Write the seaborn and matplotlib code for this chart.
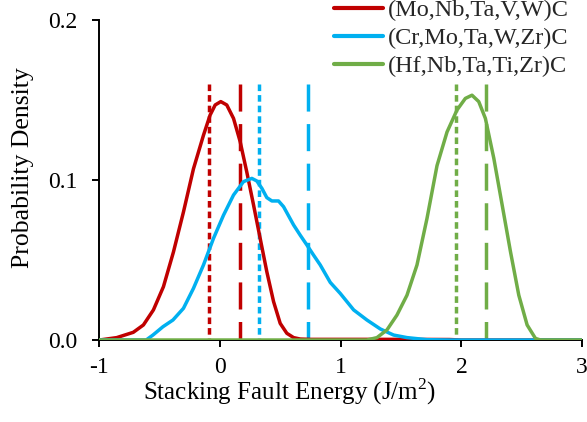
import numpy as np
import pandas as pd
import matplotlib
matplotlib.use("Agg")
import matplotlib.pyplot as plt
import seaborn as sns

# ---- data ----
series_names = ["(Mo,Nb,Ta,V,W)C", "(Cr,Mo,Ta,W,Zr)C", "(Hf,Nb,Ta,Ti,Zr)C"]

red_x = [-1.0, -0.857, -0.72, -0.636, -0.553, -0.47, -0.387, -0.304, -0.221, -0.138, -0.083,
         -0.041, 0.0055, 0.055, 0.111, 0.166, 0.221, 0.277, 0.332, 0.387, 0.443, 0.498, 0.553,
         0.609, 0.664, 0.75, 1.0, 1.5, 1.9, 2.0, 3.0]
red_y = [0.0, 0.0015, 0.0048, 0.0094, 0.0188, 0.0333, 0.055, 0.080, 0.107, 0.128, 0.1406,
         0.1469, 0.149, 0.1469, 0.1385, 0.124, 0.105, 0.0844, 0.0635, 0.0427, 0.024, 0.0104,
         0.0042, 0.0015, 0.0006, 0.0004, 0.0004, 0.0004, 0.0003, 0.0, 0.0]

blue_x = [-1.0, -0.613, -0.557, -0.474, -0.391, -0.304, -0.221, -0.138, -0.055, 0.028, 0.111,
          0.194, 0.263, 0.304, 0.346, 0.387, 0.429, 0.484, 0.526, 0.609, 0.664, 0.719, 0.775,
          0.830, 0.913, 0.996, 1.107, 1.217, 1.328, 1.438, 1.549, 1.715, 1.909, 3.0]
blue_y = [0.0, 0.0, 0.0031, 0.0083, 0.0125, 0.0198, 0.0323, 0.0469, 0.0635, 0.078, 0.0906,
          0.099, 0.101, 0.0994, 0.0948, 0.089, 0.0869, 0.0869, 0.0833, 0.0719, 0.0655, 0.0594,
          0.053, 0.0469, 0.0360, 0.0291, 0.0188, 0.0125, 0.0069, 0.0031, 0.0015, 0.0002, 0.0, 0.0]

green_x = [-1.0, 1.217, 1.300, 1.383, 1.466, 1.549, 1.632, 1.715, 1.798, 1.881, 1.964, 2.033,
           2.088, 2.144, 2.199, 2.269, 2.338, 2.407, 2.476, 2.545, 2.614, 2.656, 3.0]
green_y = [0.0, 0.0, 0.0015, 0.0063, 0.0156, 0.028, 0.0469, 0.076, 0.109, 0.130, 0.1438, 0.151,
           0.153, 0.149, 0.1385, 0.1135, 0.0844, 0.0552, 0.028, 0.0094, 0.001, 0.0, 0.0]

# vertical reference lines: short-dash and long-dash per series
short_dash_x = [-0.0885, 0.326, 1.959]
long_dash_x = [0.163, 0.725, 2.202]
vline_top = 0.16

colors = ["#C00000", "#00B0F0", "#70AD47"]

x_ticks = [-1, 0, 1, 2, 3]
y_ticks = [0.0, 0.1, 0.2]

# ---- build frame ----
frames = []
for name, xs, ys in zip(series_names, [red_x, blue_x, green_x], [red_y, blue_y, green_y]):
    frames.append(pd.DataFrame({"x": xs, "y": ys, "series": name}))
df = pd.concat(frames, ignore_index=True)

sns.set_theme(style="white")
plt.rcParams["font.family"] = ["Liberation Serif", "DejaVu Serif"]
plt.rcParams["mathtext.fontset"] = "custom"
plt.rcParams["mathtext.rm"] = "Liberation Serif"

fig = plt.figure(figsize=(5.87, 4.22), dpi=100)
ax = fig.add_axes([0.1695, 0.1943, 0.8220, 0.7583])

lw = 2.5
sns.lineplot(data=df, x="x", y="y", hue="series", hue_order=series_names,
             palette=colors, linewidth=lw, sort=False, estimator=None, ax=ax, zorder=3)
for ln in ax.get_lines():
    ln.set_solid_joinstyle("round")
    ln.set_solid_capstyle("round")

for i, c in enumerate(colors):
    ax.plot([short_dash_x[i], short_dash_x[i]], [vline_top, 0], color=c, linewidth=lw,
            linestyle=(0, (1.9, 1.15)), dash_capstyle="butt", zorder=2)
    ax.plot([long_dash_x[i], long_dash_x[i]], [vline_top, 0], color=c, linewidth=lw,
            linestyle=(0, (7.8, 3.6)), dash_capstyle="butt", zorder=2)

ax.set_xlim(-1, 3)
ax.set_ylim(0, 0.2)
ax.set_xticks(x_ticks)
ax.set_xticklabels([str(t) for t in x_ticks])
ax.set_yticks(y_ticks)
ax.set_yticklabels([f"{t:.1f}" for t in y_ticks])

for s in ["top", "right"]:
    ax.spines[s].set_visible(False)
for s in ["left", "bottom"]:
    ax.spines[s].set_color("black")
    ax.spines[s].set_linewidth(1.4)
    ax.spines[s].set_zorder(1)

ax.tick_params(axis="both", which="major", direction="out", length=5, width=1.4,
               colors="black", labelsize=17)
ax.tick_params(axis="x", pad=7)
ax.tick_params(axis="y", pad=11)
ax.tick_params(left=True, bottom=True)

ax.set_xlabel("Stacking Fault Energy (J/m$^2$)", fontsize=18, color="black")
ax.set_ylabel("Probability Density", fontsize=18.5, color="black")
ax.xaxis.set_label_coords(0.395, -0.115)
ax.yaxis.set_label_coords(-0.136, 0.5375)

leg = ax.legend(loc="upper left", bbox_to_anchor=(334 / 587, 1.0 + 1.0 / 422),
                bbox_transform=fig.transFigure,
                frameon=False, fontsize=17.5, handlelength=2.0, handletextpad=0.2,
                labelspacing=0.25, borderaxespad=0.0, borderpad=0.0)
for h in leg.get_lines():
    h.set_linewidth(3.0)

fig.savefig("out.png", dpi=100)
